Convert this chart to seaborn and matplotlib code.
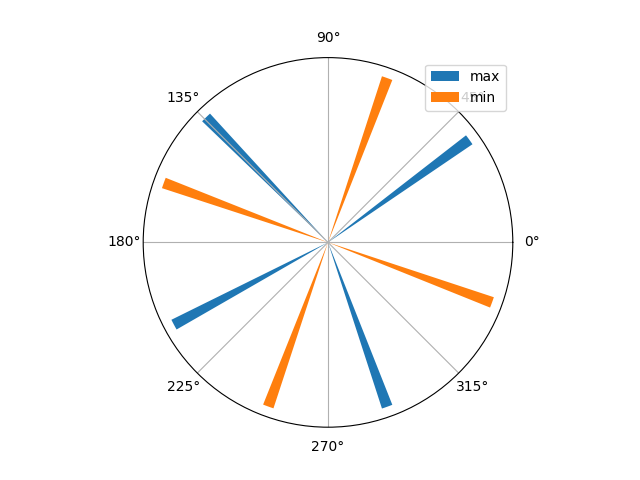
import numpy as np
import matplotlib
matplotlib.use("Agg")
import matplotlib.pyplot as plt
import seaborn as sns

# Data (angles in degrees, radial length)
max_angles_deg = [36, 134.3, 208.1, 289.8]
max_values = [1.0, 1.0, 1.0, 1.0]
min_angles_deg = [70.2, 160.1, 250.0, 339.9]
min_values = [1.0, 1.0, 1.0, 1.0]
series_labels = ["max", "min"]

palette = sns.color_palette("tab10")
bar_width = 0.063

fig = plt.figure(figsize=(6.4, 4.8), dpi=100)
ax = fig.add_subplot(111, projection="polar")

ax.bar(np.deg2rad(max_angles_deg), max_values, width=bar_width,
       color=palette[0], label=series_labels[0])
ax.bar(np.deg2rad(min_angles_deg), min_values, width=bar_width,
       color=palette[1], label=series_labels[1])

ax.set_ylim(0, 1.058)
ax.set_yticks([])
ax.legend(loc="upper right")

fig.savefig("out.png", dpi=100)
